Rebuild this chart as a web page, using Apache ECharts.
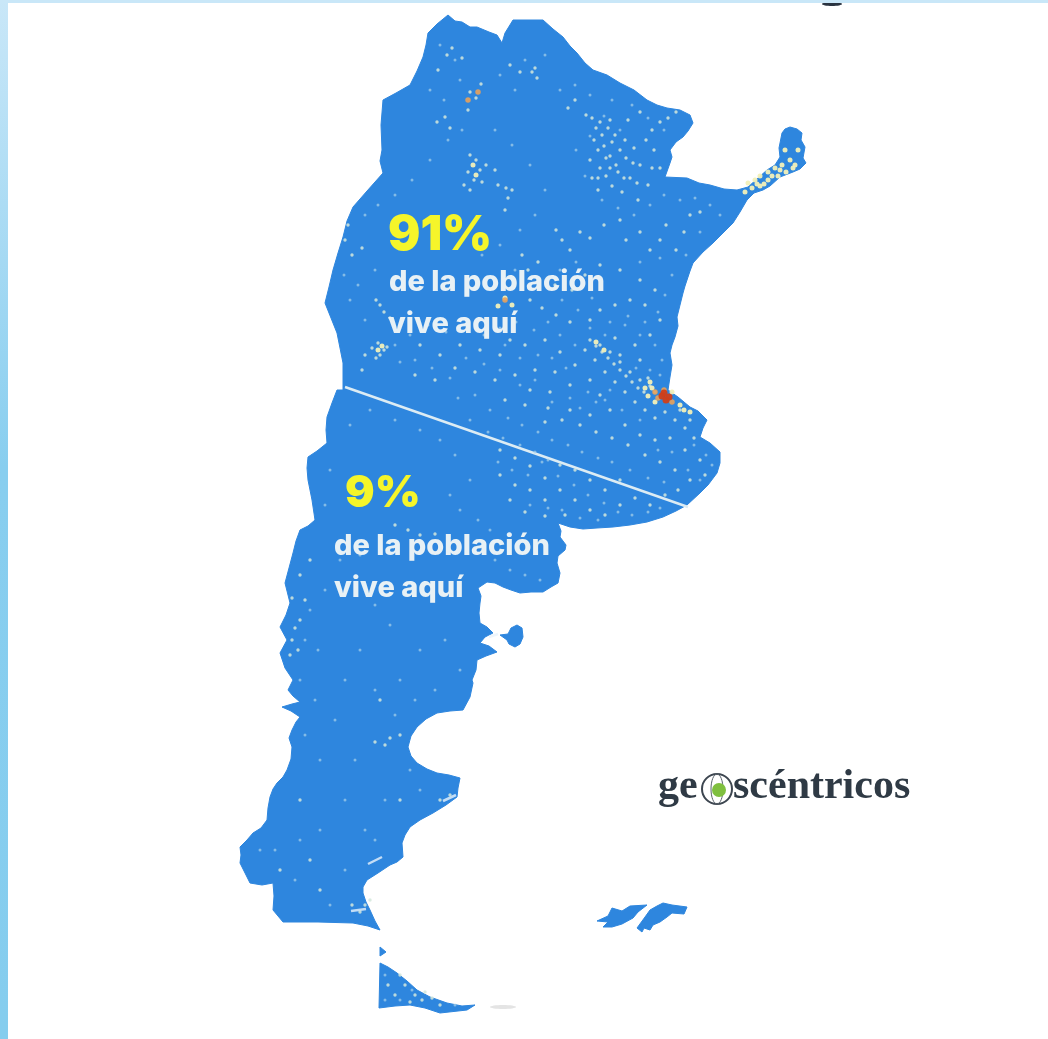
<!DOCTYPE html>
<html lang="es"><head><meta charset="utf-8">
<style>html,body{margin:0;padding:0;background:#fff}#c{width:1048px;height:1039px;filter:blur(0.7px)}</style>
<script src="https://cdn.jsdelivr.net/npm/echarts@6/dist/echarts.min.js"></script>
</head><body><div id="c"></div>
<script>
const mainland = [[448,15],[455,21],[462,22],[470,27],[477,27],[489,32],[497,35],[502,43],[505,33],[513,20],[543,20],[553,29],[563,37],[570,46],[577,53],[585,63],[593,70],[607,75],[620,83],[634,90],[647,100],[657,105],[667,108],[680,110],[690,115],[693,123],[688,131],[683,137],[676,142],[670,150],[672,157],[670,163],[665,177],[687,178],[699,183],[710,185],[724,189],[737,190],[748,187],[758,178],[767,170],[775,165],[780,157],[779,148],[782,133],[785,129],[790,127],[797,129],[802,133],[801,140],[805,147],[803,158],[806,163],[800,169],[793,172],[780,177],[770,186],[763,190],[754,193],[747,200],[740,212],[733,223],[724,232],[713,243],[703,252],[693,263],[690,271],[688,277],[685,286],[683,293],[680,305],[677,317],[678,326],[675,337],[672,345],[670,353],[672,365],[670,377],[668,390],[678,397],[690,407],[698,411],[707,420],[703,428],[700,437],[710,443],[720,452],[720,463],[717,473],[708,485],[700,493],[687,505],[676,511],[663,517],[647,522],[630,525],[613,527],[597,528],[583,529],[570,527],[558,523],[561,531],[560,537],[566,545],[565,550],[558,556],[557,563],[560,573],[558,583],[551,587],[543,592],[531,592],[520,593],[511,590],[503,587],[495,583],[487,582],[478,588],[481,596],[480,603],[479,613],[480,623],[487,627],[493,633],[485,637],[480,643],[489,646],[497,652],[486,656],[477,660],[476,670],[472,680],[473,683],[470,697],[463,710],[450,711],[437,713],[426,719],[417,727],[411,736],[408,747],[411,756],[417,763],[427,769],[437,773],[449,775],[460,778],[458,788],[457,797],[446,805],[433,813],[420,820],[410,827],[405,835],[402,843],[403,857],[397,862],[390,865],[378,873],[367,880],[363,887],[363,893],[366,902],[370,910],[375,921],[380,930],[368,926],[353,923],[318,922],[283,922],[278,916],[273,910],[274,896],[273,883],[262,885],[250,883],[245,873],[240,863],[241,855],[240,847],[247,840],[253,833],[261,828],[267,820],[268,808],[270,797],[273,789],[277,783],[283,777],[287,770],[291,759],[292,747],[289,738],[292,730],[296,722],[300,717],[291,711],[282,707],[292,704],[300,702],[293,696],[288,690],[293,680],[285,668],[280,653],[287,640],[280,627],[286,615],[290,603],[285,583],[289,568],[293,553],[296,541],[300,530],[308,526],[315,520],[312,500],[308,480],[307,468],[308,457],[317,451],[327,443],[326,430],[327,417],[332,403],[337,390],[343,390],[343,363],[340,348],[337,333],[331,318],[325,303],[329,287],[333,270],[338,253],[343,237],[347,221],[353,207],[367,191],[383,173],[380,161],[382,150],[381,125],[383,100],[396,93],[410,85],[417,71],[423,57],[426,45],[428,33],[437,24]];
const fuego = [[380,963],[388,967],[397,973],[407,981],[417,990],[430,997],[447,1003],[462,1006],[475,1005],[467,1010],[440,1013],[425,1008],[410,1005],[395,1006],[379,1008]];
const estados = [[380,947],[386,952],[380,956]];
const valdes = [[500,635],[508,634],[511,628],[517,625],[522,628],[523,637],[520,644],[515,647],[509,644],[507,640]];
const falklandWest = [[597,921],[608,916],[612,908],[622,911],[630,906],[647,905],[638,912],[633,918],[622,924],[612,927],[603,927],[608,922]];
const falklandEast = [[637,928],[645,917],[650,910],[657,906],[663,903],[672,905],[687,907],[684,914],[672,913],[667,917],[660,922],[653,925],[650,930],[644,928],[642,932]];
const divider = [[345,387],[688,507]];
const inlets = [[[368,864],[382,857]],[[351,911],[366,909]],[[443,801],[456,795]],[[489,637],[498,634]]];
const speckleFaint = [
[440,45],[455,60],[430,90],[444,100],[460,80],[500,75],[515,90],[525,60],[545,55],[560,90],[575,85],[590,95],[612,100],[632,105],[648,118],[664,130],[620,130],[604,116],[590,136],[576,150],[585,176],[602,200],[618,208],[634,215],[650,205],[664,195],[680,200],[695,198],[710,205],[720,215],[700,232],[686,255],[672,275],[665,295],[658,312],[645,322],[628,316],[610,322],[592,298],[578,310],[562,300],[548,322],[534,330],[516,322],[500,328],[484,335],[466,325],[446,332],[428,325],[410,335],[395,345],[365,320],[350,300],[344,275],[358,285],[375,270],[365,215],[378,205],[395,195],[412,180],[430,160],[448,140],[462,130],[495,130],[512,145],[530,165],[545,190],[535,215],[520,230],[500,245],[482,255],[515,270],[560,270],[576,262],[640,262],[660,258],
[458,398],[475,395],[490,410],[508,418],[522,425],[538,432],[552,440],[568,445],[582,452],[598,458],[612,462],[630,470],[648,478],[664,482],[470,420],[488,432],[503,438],[520,445],[535,452],[548,460],[528,475],[542,462],[558,476],[574,485],[588,495],[604,503],[618,512],[632,515],[648,512],[660,508],[598,520],[580,518],[562,510],[548,508],[530,505],[512,470],[498,462],[694,445],[706,455],[712,465],[700,480],[688,470],[672,452],[658,450],[640,420],[622,410],[605,400],[588,392],[570,398],[552,402],[535,380],[520,385],[500,370],[484,364],[466,358],[450,378],[432,368],[415,360],[400,362],[560,335],[575,345],[590,328],[605,335],[625,325],[640,335],[655,345],[662,360],[650,370],[636,368],[660,375],[610,390],[596,402],[580,408],[566,368],[552,358],[538,355],[520,358],[505,345],
[305,640],[318,650],[310,610],[325,590],[300,680],[315,700],[305,735],[320,760],[335,720],[345,680],[360,650],[375,690],[395,715],[355,760],[345,800],[320,830],[300,840],[275,850],[260,850],[295,880],[330,905],[345,870],[375,840],[385,800],[420,790],[410,770],[365,830],[340,560],[360,555],[375,605],[390,625],[420,650],[445,640],[460,670],[435,690],[415,700],[400,680],[540,580],[525,575],[510,570],[495,560],[490,530],[478,520],[460,510],[450,495],[470,480],[455,455],[440,440],[420,430],[395,420],[370,410],[350,425],[330,470],[325,505],[400,1000],[385,975],[385,1000],[455,1005],[412,990]];
const speckleLight = [
[447,55],[452,48],[438,70],[462,58],[470,92],[476,98],[481,84],[468,110],[445,117],[437,122],[450,128],[520,72],[535,68],[537,78],[532,72],[510,65],[568,108],[575,100],[586,115],[596,128],[602,135],[608,128],[612,142],[620,150],[598,150],[590,160],[600,168],[606,176],[616,165],[626,158],[634,148],[640,165],[630,178],[612,186],[598,190],[622,192],[646,140],[652,130],[660,122],[668,118],[676,112],[640,112],[628,120],[610,120],[654,150],[660,168],[648,185],[638,200],
[594,140],[604,146],[610,156],[618,172],[624,178],[610,168],[592,178],[598,178],[606,158],[615,135],[625,140],[633,163],[637,183],[652,168],[600,122],[592,118],
[470,155],[476,160],[480,170],[468,172],[474,180],[464,185],[470,190],[486,165],[482,182],[506,188],[508,198],[505,210],[512,190],[495,170],[498,185],[522,255],[528,270],[538,262],[556,230],[562,240],[570,250],[580,232],[590,238],[604,225],[620,220],[626,240],[640,232],[650,250],[660,240],[666,225],[684,232],[676,250],[690,215],[700,212],
[345,240],[352,255],[348,225],[362,248],[380,305],[384,312],[376,300],[390,318],[372,348],[378,343],[384,350],[380,355],[387,347],[376,358],[362,370],[365,355],
[530,300],[542,308],[556,315],[570,322],[590,320],[600,310],[615,305],[630,300],[645,305],[655,290],[640,280],[620,270],[600,265],[585,275],[572,290],[555,285],[660,320],[650,335],[635,345],[620,355],[640,360],[615,338],
[590,340],[596,346],[602,352],[608,358],[614,364],[620,370],[626,376],[632,382],[638,388],[644,392],[600,345],[610,352],[620,362],[630,372],[640,380],[650,386],[655,392],[648,378],[585,350],[595,360],[605,372],[615,382],[625,392],[635,402],[645,410],[655,418],[665,412],[675,420],[685,428],[694,438],[690,420],[680,410],
[420,345],[440,355],[460,345],[480,350],[500,355],[510,340],[525,345],[545,340],[560,352],[575,365],[555,372],[535,370],[515,375],[495,380],[475,372],[455,368],[435,380],[415,375],[530,390],[550,392],[570,385],[590,380],[600,395],[610,410],[590,415],[570,410],[548,408],[525,405],[505,400],[625,425],[640,435],[655,440],[670,438],[685,450],[700,460],[705,475],[690,480],[675,470],[660,462],[645,455],[628,445],[612,438],[596,432],[580,425],[562,420],[545,422],
[500,450],[515,458],[530,466],[545,478],[560,490],[575,500],[590,510],[605,515],[620,505],[635,498],[650,505],[665,495],[678,490],[560,465],[575,470],[590,480],[605,490],[620,480],[530,490],[545,500],[515,485],[510,500],[525,512],[545,516],[565,515],[500,475],
[295,628],[300,620],[292,640],[298,650],[290,655],[305,600],[292,598],[310,560],[300,575],[395,525],[408,530],[420,535],[435,534],[380,700],[390,738],[385,745],[375,742],[400,735],[310,860],[280,870],[320,890],[300,800],[400,800],[450,795],[440,800],[352,905],[360,912],[365,905],[370,900],
[400,975],[405,985],[415,995],[425,992],[432,998],[422,1000],[395,995],[388,985],[410,1002],[440,1005]];
const speckleYellow = [[748,183],[755,180],[760,176],[768,172],[775,168],[782,165],[790,160],[752,188],[760,186],[768,180],[778,176],[786,172],[793,168],[798,150],[785,150],[745,192],[764,184],[772,176],[780,170],[757,184],[795,165],[672,392],[652,388],[680,405],[690,412],[655,402],[648,396],[645,388],[650,382],[684,410],[596,342],[604,350],[473,165],[476,175],[378,350],[382,346],[505,298],[512,305],[498,306]];
const speckleOrange = [[655,392],[658,398],[672,402],[664,390],[505,300],[468,100],[478,92]];
const speckleRed = [[662,396],[666,400],[669,397],[664,393]];
const labelBig = ["91%","9%"];
const labelLine1 = "de la población";
const labelLine2 = "vive aquí";

const geojson = {type:"FeatureCollection",features:[
 ["Argentina",[mainland]],["Tierra del Fuego",[fuego]],["Isla de los Estados",[estados]],["Valdés",[valdes]],["Malvinas O",[falklandWest]],["Malvinas E",[falklandEast]]
].map(([name,rings])=>({type:"Feature",properties:{name},geometry:{type:"Polygon",coordinates:rings.map(r=>r.concat([r[0]]))}}))};
echarts.registerMap("ar",geojson);
const BLUE="#2e86de";
const chart=echarts.init(document.getElementById("c"),null,{renderer:"canvas"});
const scat=(data,color,size,op)=>({type:"scatter",coordinateSystem:"geo",data,symbolSize:size,silent:true,animation:false,
  itemStyle:{color,opacity:op}});
const txt=(x,y,text,font,fill)=>({type:"text",x,y,silent:true,style:{text,font,fill,textVerticalAlign:"middle"}});
const uiFont='"Inter","Open Sans",sans-serif';
const logoFont='700 42px "Liberation Serif",serif';
chart.setOption({
 animation:false,backgroundColor:"#fff",
 geo:{map:"ar",roam:false,silent:true,left:0,top:0,width:1048,height:1039,
  projection:{project:p=>p,unproject:p=>p},
  boundingCoords:[[0,0],[1048,1039]],
  label:{show:false},
  itemStyle:{areaColor:BLUE,borderColor:BLUE,borderWidth:1}},
 series:[
  scat(speckleFaint,"#a9d2ea",3,0.7),
  scat(speckleLight,"#d3e8dc",3.4,0.85),
  scat(speckleYellow,"#f2f0b8",5,0.95),
  scat(speckleOrange,"#e9a25a",5.5,0.9),
  scat(speckleRed,"#cf3f1a",7,0.95),
  {type:"lines",coordinateSystem:"geo",silent:true,animation:false,data:[{coords:divider}],
   lineStyle:{color:"#dcecf4",width:2.4,opacity:1,curveness:0}},
  {type:"lines",coordinateSystem:"geo",silent:true,animation:false,data:inlets.map(coords=>({coords})),
   lineStyle:{color:"#e8f3fb",width:2.5,opacity:0.8,curveness:0}}
 ],
 graphic:[
  {type:"ellipse",shape:{cx:832,cy:4,rx:10,ry:2},silent:true,z:45,style:{fill:"#2a3340"}},
  {type:"ellipse",shape:{cx:503,cy:1007,rx:13,ry:2},silent:true,z:45,style:{fill:"#e4e4e4"}},
  {type:"rect",shape:{x:0,y:0,width:8,height:1039},silent:true,z:50,style:{fill:new echarts.graphic.LinearGradient(0,0,0,1,[{offset:0,color:"#c9e7f8"},{offset:0.45,color:"#88ceef"},{offset:1,color:"#85cdee"}])}},
  {type:"rect",shape:{x:0,y:0,width:1048,height:3},silent:true,z:50,style:{fill:"#c9e7f8"}},
  {...txt(388,236,labelBig[0],'900 48px '+uiFont,"#f5f52a"),z:60},
  {...txt(389,282,labelLine1,'800 29px '+uiFont,"#e8f1f5"),z:60},
  {...txt(388,324,labelLine2,'800 29px '+uiFont,"#e8f1f5"),z:60},
  {...txt(345,494,labelBig[1],'900 44px '+uiFont,"#f5f52a"),z:60},
  {...txt(334,546,labelLine1,'800 29px '+uiFont,"#e8f1f5"),z:60},
  {...txt(334,588,labelLine2,'800 29px '+uiFont,"#e8f1f5"),z:60},
  {...txt(658,787,"ge",logoFont,"#2f3a45"),z:60},
  {...txt(733,787,"scéntricos",logoFont,"#2f3a45"),z:60},
  {type:"circle",shape:{cx:717,cy:789,r:15},silent:true,z:60,style:{fill:"#fff",stroke:"#3d4650",lineWidth:2}},
  {type:"ellipse",shape:{cx:717,cy:789,rx:6,ry:15},silent:true,z:60,style:{fill:"none",stroke:"#5a636c",lineWidth:1}},
  {type:"circle",shape:{cx:719,cy:790,r:7},silent:true,z:61,style:{fill:"#7fbf3f"}}
 ]
});
</script></body></html>
